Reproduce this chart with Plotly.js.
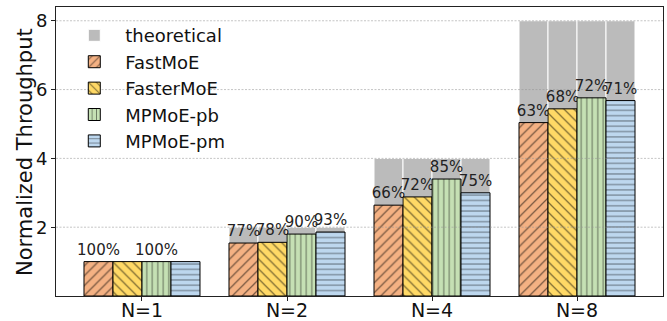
<!DOCTYPE html>
<html>
<head>
<meta charset="utf-8">
<script src="https://cdn.plot.ly/plotly-3.0.1.min.js"></script>
<style>html,body{margin:0;padding:0;background:#fff}#chart{width:667px;height:321px}</style>
</head>
<body>
<div id="chart"></div>
<script>
// ---- data ----
const categories = ["N=1", "N=2", "N=4", "N=8"];
const theoretical = [1, 2, 4, 8];
const seriesNames = ["FastMoE", "FasterMoE", "MPMoE-pb", "MPMoE-pm"];
const fastMoE   = [1.00, 1.54, 2.64, 5.04];
const fasterMoE = [1.00, 1.56, 2.88, 5.44];
const mpmoePb   = [1.00, 1.80, 3.40, 5.76];
const mpmoePm   = [1.00, 1.86, 3.00, 5.68];
const fastMoELabels   = ["100%", "77%", "66%", "63%"];
const fasterMoELabels = ["", "78%", "72%", "68%"];
const mpmoePbLabels   = ["100%", "90%", "85%", "72%"];
const mpmoePmLabels   = ["", "93%", "75%", "71%"];
const yTicks = [2, 4, 6, 8];
const yTitle = "Normalized Throughput";

// ---- styles ----
const colors = ["#F4B183", "#FFD966", "#C5E0B4", "#BDD7EE"];
const shapes = ["/", "\\", "|", "-"];
const sizes = [7, 7, 5.5, 5.3];
const values = [fastMoE, fasterMoE, mpmoePb, mpmoePm];
const labels = [fastMoELabels, fasterMoELabels, mpmoePbLabels, mpmoePmLabels];

const traces = [];
for (let k = 0; k < 4; k++) {
  traces.push({
    type: "bar", x: categories, y: theoretical, name: "theoretical",
    offsetgroup: String(k), legendgroup: "theo", showlegend: k === 0,
    marker: {color: "#BBBBBB", line: {color: "#FFFFFF", width: 1}},
    hoverinfo: "skip"
  });
}
for (let k = 0; k < 4; k++) {
  traces.push({
    type: "bar", x: categories, y: values[k], name: seriesNames[k],
    offsetgroup: String(k),
    text: labels[k], textposition: "outside", cliponaxis: false,
    constraintext: "none",
    textfont: {family: "DejaVu Sans", size: 15, color: "#222"},
    marker: {
      color: colors[k],
      line: {color: "#000000", width: 1},
      pattern: {shape: shapes[k], fgcolor: "#000000", bgcolor: colors[k], size: sizes[k], solidity: 0.18, fillmode: "overlay"}
    }
  });
}

const gridShapes = yTicks.map(v => ({
  type: "line", xref: "paper", x0: 0, x1: 1, yref: "y", y0: v, y1: v,
  layer: "above", line: {color: "rgba(150,150,150,0.7)", width: 0.8, dash: "2px,1.5px"}
}));

const layout = {
  width: 667, height: 321,
  margin: {l: 56, r: 4, t: 7, b: 25},
  paper_bgcolor: "#fff", plot_bgcolor: "#fff",
  barmode: "group", bargap: 0.2, bargroupgap: 0,
  font: {family: "DejaVu Sans", color: "#111"},
  showlegend: true,
  legend: {
    x: 0.012, y: 0.965, xanchor: "left", yanchor: "top",
    bgcolor: "rgba(255,255,255,0)", borderwidth: 0,
    font: {family: "DejaVu Sans", size: 18, color: "#111"},
    traceorder: "normal", tracegroupgap: 0, itemwidth: 52
  },
  xaxis: {
    type: "category", range: [-0.593, 3.593],
    showline: true, mirror: true, linecolor: "#222", linewidth: 1,
    ticks: "outside", ticklen: 4, tickcolor: "#222",
    ticklabelstandoff: -7,
    tickfont: {family: "DejaVu Sans", size: 19, color: "#111"},
    showgrid: false, zeroline: false
  },
  yaxis: {
    range: [0, 8.4], tickvals: yTicks,
    showline: true, mirror: true, linecolor: "#222", linewidth: 1,
    ticks: "outside", ticklen: 4, tickcolor: "#222",
    tickfont: {family: "DejaVu Sans", size: 18, color: "#111"},
    showgrid: false, zeroline: false
  },
  annotations: [{
    text: yTitle, xref: "paper", yref: "paper", x: -0.0519, y: 0.5,
    xanchor: "center", yanchor: "middle", textangle: -90, showarrow: false,
    font: {family: "DejaVu Sans", size: 21, color: "#111"}
  }],
  shapes: gridShapes
};

Plotly.newPlot("chart", traces, layout, {displayModeBar: false, staticPlot: true});
</script>
</body>
</html>
